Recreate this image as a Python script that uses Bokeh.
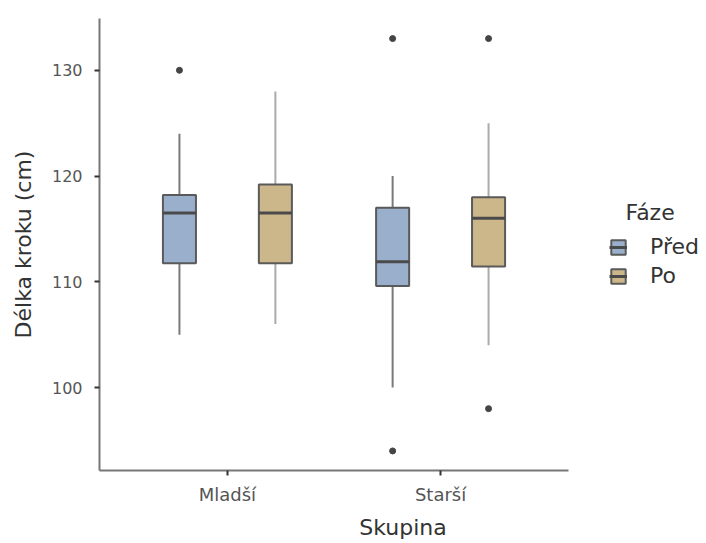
from bokeh.plotting import figure
from bokeh.models import Range1d, FixedTicker, Legend, LegendItem, ColumnDataSource, Label
from bokeh.embed import file_html
from bokeh.resources import INLINE

groups = ["Mladší", "Starší"]
phases = ["Před", "Po"]
legend_title = "Fáze"

pred_q1 = [111.75, 109.6]
pred_med = [116.5, 111.9]
pred_q3 = [118.2, 117.0]
pred_lo = [105.0, 100.0]
pred_hi = [124.0, 120.0]
pred_out_group = ["Mladší", "Starší", "Starší"]
pred_out_val = [130.0, 133.0, 94.0]

po_q1 = [111.75, 111.45]
po_med = [116.5, 116.0]
po_q3 = [119.2, 118.0]
po_lo = [106.0, 104.0]
po_hi = [128.0, 125.0]
po_out_group = ["Starší", "Starší"]
po_out_val = [133.0, 98.0]

y_ticks = [100, 110, 120, 130]

fills = ["#9aafcc", "#ccb78b"]
whisk = ["#7a7a7a", "#ababab"]
offsets = [-0.225, 0.225]
box_w = 0.155

FONT = "DejaVu Sans"

# axis spans x in [0.4, 2.6] over 469 px; frame continues to the right edge for the legend
W, H = 706, 543
left, right_axis_px = 99, 568
x0 = 0.4
x_axis_end = 2.6
unit_px = (right_axis_px - left) / (x_axis_end - x0)
x_end = x0 + (W - left) / unit_px

p = figure(width=W, height=H, output_backend="svg", toolbar_location=None,
           x_range=Range1d(x0, x_end), y_range=Range1d(92.15, 134.9),
           min_border_left=left, min_border_right=0, min_border_top=18, min_border_bottom=73)
p.outline_line_color = None
p.xgrid.visible = False
p.ygrid.visible = False

pos = {g: i + 1 for i, g in enumerate(groups)}

series = [
    (pred_q1, pred_med, pred_q3, pred_lo, pred_hi, pred_out_group, pred_out_val),
    (po_q1, po_med, po_q3, po_lo, po_hi, po_out_group, po_out_val),
]

items = []
for k, (q1, med, q3, lo, hi, og, ov) in enumerate(series):
    xs = [pos[g] + offsets[k] for g in groups]
    src = ColumnDataSource(dict(x=xs, q1=q1, med=med, q3=q3, lo=lo, hi=hi,
                                x0=[x - box_w / 2 for x in xs], x1=[x + box_w / 2 for x in xs]))
    p.segment(x0="x", y0="q3", x1="x", y1="hi", source=src, line_color=whisk[k], line_width=2)
    p.segment(x0="x", y0="lo", x1="x", y1="q1", source=src, line_color=whisk[k], line_width=2)
    box = p.vbar(x="x", bottom="q1", top="q3", width=box_w, source=src,
                 fill_color=fills[k], line_color="#5a5a5a", line_width=2)
    medr = p.segment(x0="x0", y0="med", x1="x1", y1="med", source=src,
                     line_color="#4a4a4a", line_width=3)
    ox = [pos[g] + offsets[k] for g in og]
    p.scatter(x=ox, y=ov, size=6, color="#444444")
    items.append(LegendItem(label=phases[k], renderers=[box, medr]))

legend = Legend(items=items, location=(510, 182),
                label_text_font=FONT, label_text_font_size="22px", label_text_color="#333333",
                glyph_width=18, glyph_height=18, label_height=22, spacing=4,
                label_standoff=23,
                background_fill_alpha=0, border_line_color=None, padding=0, margin=0)
p.add_layout(legend, "center")

title_lbl = Label(x=526, y=470 - 212, x_units="screen", y_units="screen", text=legend_title,
                  text_font=FONT, text_font_size="22px", text_color="#333333",
                  text_baseline="middle", text_align="left")
p.add_layout(title_lbl)

p.xaxis.ticker = FixedTicker(ticks=[pos[g] for g in groups])
p.xaxis.major_label_overrides = {pos[g]: g for g in groups}
p.xaxis.bounds = (x0, x_axis_end)
p.yaxis.ticker = FixedTicker(ticks=y_ticks)

for ax in (p.xaxis[0], p.yaxis[0]):
    ax.axis_line_color = "#777777"
    ax.axis_line_width = 2
    ax.major_tick_line_color = "#333333"
    ax.major_tick_line_width = 2
    ax.major_tick_in = 0
    ax.major_tick_out = 5
    ax.minor_tick_line_color = None
    ax.major_label_text_font = FONT
    ax.major_label_text_color = "#555555"
    ax.axis_label_text_font = FONT
    ax.axis_label_text_font_size = "22px"
    ax.axis_label_text_font_style = "normal"
    ax.axis_label_text_color = "#333333"

p.yaxis.major_label_text_font_size = "16px"
p.xaxis.major_label_text_font_size = "18px"
p.xaxis.axis_label = "Skupina"
p.yaxis.axis_label = "Délka kroku (cm)"
p.xaxis.major_label_standoff = 8
p.yaxis.major_label_standoff = 12
p.xaxis.axis_label_standoff = 7
p.yaxis.axis_label_standoff = 13

open("out.html", "w").write(file_html(p, INLINE))
